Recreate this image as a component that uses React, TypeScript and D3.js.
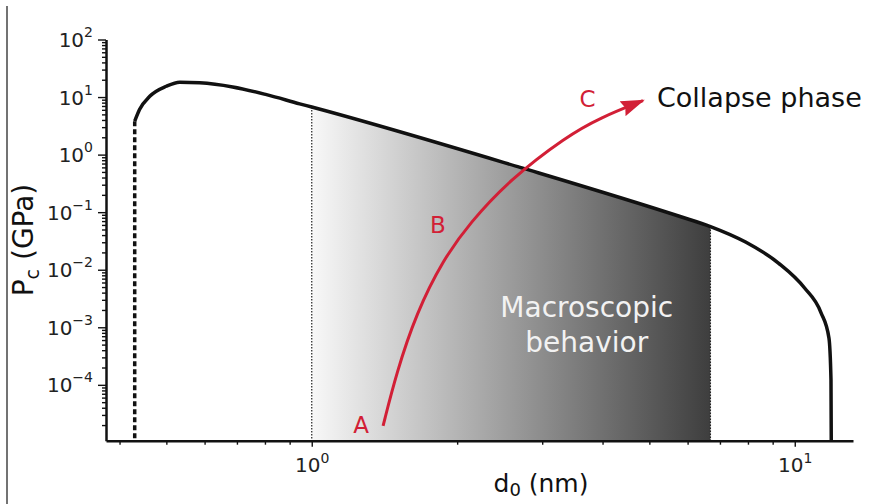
import { useEffect, useRef } from "react";
import * as d3 from "d3";

const W = 877;
const H = 504;

// critical pressure curve: d0 (nm) -> Pc (GPa)
const curveD0 = [0.43, 0.44, 0.462, 0.5, 0.533, 0.586, 0.686, 0.806, 0.944, 1.0, 2.7, 5.79, 6.69, 7.91, 9.25, 10.48, 11.33, 11.77, 11.885, 11.9];
const curvePc = [3.8, 6.06, 10.3, 15.4, 18.1, 17.7, 15.0, 11.0, 7.63, 6.71, 0.6, 0.084, 0.0563, 0.0303, 0.01307, 0.00481, 0.0018, 6.5e-4, 1.21e-4, 1.07e-5];

// red path A -> B -> C
const arrowD0 = [1.405, 1.497, 1.647, 1.87, 2.124, 2.57, 3.37, 3.95, 4.85];
const arrowPc = [1.94e-5, 1.6e-4, 1.77e-3, 0.0149, 0.0649, 0.367, 2.08, 4.35, 8.7];

// letters along the path
const pathLabels = ["A", "B", "C"];
const pathLabelD0 = [1.265, 1.825, 3.724];
const pathLabelPc = [1.46e-5, 0.0434, 6.71];

// macroscopic band and the dashed lower limit
const macroLo = 1.0;
const macroHi = 6.69;
const dashD0 = 0.43;

const xMajor = [1, 10];
const xMinor = [0.4, 0.5, 0.6, 0.7, 0.8, 0.9, 2, 3, 4, 5, 6, 7, 8, 9];
const yMajor = [1e-4, 1e-3, 1e-2, 1e-1, 1, 10, 100];

const FONT = "DejaVu Sans";
const RED = "#d21f36";

export default function App() {
  const xMajRef = useRef<SVGGElement>(null);
  const xMinRef = useRef<SVGGElement>(null);
  const yMajRef = useRef<SVGGElement>(null);
  const yMinRef = useRef<SVGGElement>(null);

  const x = d3.scaleLog().domain([0.375, 13.2]).range([106, 853]);
  const y = d3.scaleLog().domain([1.07e-5, 100]).range([440.7, 39.5]);
  const yBottom = y.range()[0];

  // minor y ticks 2..9 per decade
  const yMinor = d3
    .range(-5, 2)
    .flatMap((e) => d3.range(2, 10).map((k) => k * Math.pow(10, e)))
    .filter((v) => v > y.domain()[0] && v < y.domain()[1]);

  const curve = curveD0.map((d, i) => [d, curvePc[i]] as [number, number]);
  const arrow = arrowD0.map((d, i) => [d, arrowPc[i]] as [number, number]);

  const line = d3
    .line<[number, number]>()
    .x((d) => x(d[0]))
    .y((d) => y(d[1]))
    .curve(d3.curveMonotoneX);

  const arrowLine = d3
    .line<[number, number]>()
    .x((d) => x(d[0]))
    .y((d) => y(d[1]))
    .curve(d3.curveBasis);

  const area = d3
    .area<[number, number]>()
    .x((d) => x(d[0]))
    .y0(yBottom)
    .y1((d) => y(d[1]))
    .curve(d3.curveMonotoneX);

  const pcAt = (d: number) => curvePc[curveD0.indexOf(d)];

  useEffect(() => {
    const styleAxis = (g: any) => {
      g.select(".domain").attr("stroke", "#111").attr("stroke-width", 2.5);
      g.selectAll(".tick line").attr("stroke", "#111").attr("stroke-width", 1.4);
      g.selectAll(".tick text").remove();
    };

    const gxMin = d3.select(xMinRef.current);
    gxMin.selectAll("*").remove();
    gxMin.call(d3.axisBottom(x).tickValues(xMinor).tickSize(4).tickSizeOuter(0) as any);
    styleAxis(gxMin);
    gxMin.select(".domain").remove();

    const gyMin = d3.select(yMinRef.current);
    gyMin.selectAll("*").remove();
    gyMin.call(d3.axisLeft(y).tickValues(yMinor).tickSize(4).tickSizeOuter(0) as any);
    styleAxis(gyMin);
    gyMin.select(".domain").remove();

    const gx = d3.select(xMajRef.current);
    gx.selectAll("*").remove();
    gx.call(d3.axisBottom(x).tickValues(xMajor).tickSize(6).tickSizeOuter(0) as any);
    styleAxis(gx);
    const tx = gx
      .selectAll(".tick")
      .append("text")
      .attr("y", 31)
      .attr("text-anchor", "middle")
      .attr("fill", "#222")
      .attr("font-family", FONT)
      .attr("font-size", 20);
    tx.append("tspan").text("10");
    tx.append("tspan")
      .attr("dy", -9)
      .attr("font-size", 14)
      .text((d: any) => String(Math.round(Math.log10(d))).replace("-", "\u2212"));

    const gy = d3.select(yMajRef.current);
    gy.selectAll("*").remove();
    gy.call(d3.axisLeft(y).tickValues(yMajor).tickSize(8).tickSizeOuter(0) as any);
    styleAxis(gy);
    const ty = gy
      .selectAll(".tick")
      .append("text")
      .attr("x", -13)
      .attr("y", 7)
      .attr("text-anchor", "end")
      .attr("fill", "#222")
      .attr("font-family", FONT)
      .attr("font-size", 20);
    ty.append("tspan").text("10");
    ty.append("tspan")
      .attr("dy", -10)
      .attr("font-size", 14)
      .text((d: any) => String(Math.round(Math.log10(d))).replace("-", "\u2212"));
  }, []);

  const tip = arrow[arrow.length - 1];

  return (
    <svg
      width={W}
      height={H}
      style={{ position: "absolute", left: 0, top: 0, background: "#fff" }}
      fontFamily={FONT}
    >
      <defs>
        <linearGradient
          id="macro"
          gradientUnits="userSpaceOnUse"
          x1={x(macroLo)}
          x2={x(macroHi)}
          y1={0}
          y2={0}
        >
          <stop offset="0" stopColor="#f8f8f8" />
          <stop offset="1" stopColor="#3e3e3e" />
        </linearGradient>
        <clipPath id="band">
          <rect x={x(macroLo)} y={0} width={x(macroHi) - x(macroLo)} height={yBottom} />
        </clipPath>
        <marker
          id="head"
          markerUnits="userSpaceOnUse"
          viewBox="0 0 24 16"
          markerWidth={24}
          markerHeight={16}
          refX={22}
          refY={8}
          orient="auto"
        >
          <path d="M0,0 L24,8 L0,16 L3,8 Z" fill={RED} />
        </marker>
      </defs>

      {/* frame line at the left edge of the figure */}
      <line x1={7} x2={7} y1={6} y2={H} stroke="#444" strokeWidth={1.5} />

      {/* macroscopic band */}
      <path d={area(curve) ?? ""} fill="url(#macro)" clipPath="url(#band)" />
      {[macroLo, macroHi].map((d) => (
        <line
          key={d}
          x1={x(d)}
          x2={x(d)}
          y1={y(pcAt(d))}
          y2={yBottom}
          stroke="#222"
          strokeWidth={1.2}
          strokeDasharray="1.5,1.5"
        />
      ))}

      {/* dashed lower limit */}
      <line
        x1={x(dashD0)}
        x2={x(dashD0)}
        y1={y(pcAt(dashD0))}
        y2={yBottom}
        stroke="#111"
        strokeWidth={3.5}
        strokeDasharray="5,3"
      />

      {/* critical pressure curve */}
      <path d={line(curve) ?? ""} fill="none" stroke="#111" strokeWidth={3.5} />

      {/* axes */}
      <g ref={xMinRef} transform={`translate(0,${yBottom})`} />
      <g ref={yMinRef} transform={`translate(${x.range()[0]},0)`} />
      <g ref={xMajRef} transform={`translate(0,${yBottom})`} />
      <g ref={yMajRef} transform={`translate(${x.range()[0]},0)`} />

      {/* red path */}
      <path
        d={arrowLine(arrow) ?? ""}
        fill="none"
        stroke={RED}
        strokeWidth={3}
        markerEnd="url(#head)"
      />
      {pathLabels.map((t, i) => (
        <text
          key={t}
          x={x(pathLabelD0[i])}
          y={y(pathLabelPc[i])}
          textAnchor="middle"
          fontSize={23}
          fill={RED}
        >
          {t}
        </text>
      ))}

      <text x={x(tip[0]) + 14} y={y(tip[1]) + 6} fontSize={27} fill="#111">
        Collapse phase
      </text>

      <text textAnchor="middle" fontSize={28} fill="#f2f2f2">
        <tspan x={x(3.71)} y={y(1.52e-3)}>Macroscopic</tspan>
        <tspan x={x(3.71)} y={y(3.76e-4)}>behavior</tspan>
      </text>

      {/* axis titles */}
      <text x={541} y={492} textAnchor="middle" fontSize={25} fill="#111">
        d<tspan fontSize={18} dy={4}>0</tspan>
        <tspan dy={-4}> (nm)</tspan>
      </text>
      <text
        transform="translate(33,240) rotate(-90)"
        textAnchor="middle"
        fontSize={28}
        fill="#111"
      >
        P<tspan fontSize={19} dy={6}>c</tspan>
        <tspan dy={-6}> (GPa)</tspan>
      </text>
    </svg>
  );
}
